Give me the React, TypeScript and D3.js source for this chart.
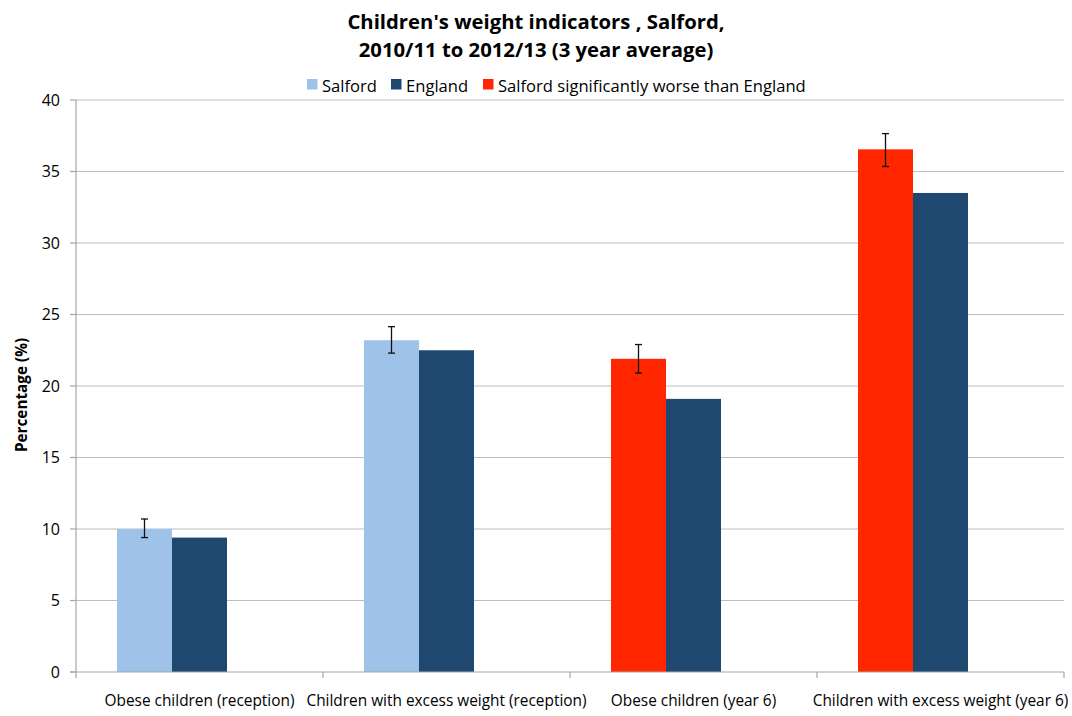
import React from "react";
import * as d3 from "d3";

const categories = [
  "Obese children (reception)",
  "Children with excess weight (reception)",
  "Obese children (year 6)",
  "Children with excess weight (year 6)",
];
const salfordValues = [10.0, 23.2, 21.9, 36.55];
const salfordLower = [9.4, 22.3, 20.9, 35.35];
const salfordUpper = [10.7, 24.15, 22.9, 37.65];
const englandValues = [9.4, 22.5, 19.1, 33.5];
const significantlyWorse = [false, false, true, true];
const yTicks = [0, 5, 10, 15, 20, 25, 30, 35, 40];
const legendItems = ["Salford", "England", "Salford significantly worse than England"];

const COL_SALFORD = "#9FC2E8";
const COL_ENGLAND = "#1F4870";
const COL_WORSE = "#FF2600";
const FONT = "'Open Sans', 'Liberation Sans', sans-serif";

export default function App() {
  const W = 1072, H = 716;
  const left = 76, right = 1064, top = 100, bottom = 672;
  const x = d3.scaleBand<string>().domain(categories).range([left, right]);
  const slotW = 55;
  const groupOff = (x.bandwidth() - 3 * slotW) / 2;
  const y = d3.scaleLinear().domain([0, 40]).range([bottom, top]);

  const legendPos = [307, 391, 483];
  const legendText = [322, 406, 498];

  return (
    <svg width={W} height={H} style={{ position: "absolute", left: 0, top: 0, fontFamily: FONT }}>
      <rect width={W} height={H} fill="#fff" />
      <text x={536} y={29} textAnchor="middle" fontSize={20.3} fontWeight="bold" fill="#000">
        Children's weight indicators , Salford,
      </text>
      <text x={536} y={57} textAnchor="middle" fontSize={20.3} fontWeight="bold" fill="#000">
        2010/11 to 2012/13 (3 year average)
      </text>
      {legendItems.map((t, i) => (
        <g key={t}>
          <rect x={legendPos[i]} y={79} width={10.5} height={10.5} fill={[COL_SALFORD, COL_ENGLAND, COL_WORSE][i]} />
          <text x={legendText[i]} y={91.5} fontSize={16.6} fill="#000">{t}</text>
        </g>
      ))}
      {yTicks.map((t) => (
        <g key={t}>
          {t > 0 && <line x1={left} x2={right} y1={y(t)} y2={y(t)} stroke="#BDBDBD" strokeWidth={1.2} />}
          <line x1={left - 6} x2={left} y1={y(t)} y2={y(t)} stroke="#A6A6A6" strokeWidth={1.2} />
          <text x={60} y={y(t) + 5.5} textAnchor="end" fontSize={16} fill="#000">{t}</text>
        </g>
      ))}
      {categories.map((c, i) => {
        const x0 = (x(c) as number) + groupOff;
        return (
          <g key={c}>
            <rect x={x0} y={y(salfordValues[i])} width={slotW} height={y(0) - y(salfordValues[i])}
              fill={significantlyWorse[i] ? COL_WORSE : COL_SALFORD} />
            <rect x={x0 + slotW} y={y(englandValues[i])} width={slotW} height={y(0) - y(englandValues[i])}
              fill={COL_ENGLAND} />
            <line x1={x0 + slotW / 2} x2={x0 + slotW / 2} y1={y(salfordUpper[i])} y2={y(salfordLower[i])} stroke="#111" strokeWidth={1.3} />
            <line x1={x0 + slotW / 2 - 3.5} x2={x0 + slotW / 2 + 3.5} y1={y(salfordUpper[i])} y2={y(salfordUpper[i])} stroke="#111" strokeWidth={1.3} />
            <line x1={x0 + slotW / 2 - 3.5} x2={x0 + slotW / 2 + 3.5} y1={y(salfordLower[i])} y2={y(salfordLower[i])} stroke="#111" strokeWidth={1.3} />
            <text x={(x(c) as number) + x.bandwidth() / 2} y={706} textAnchor="middle" fontSize={15.4} fill="#000">{c}</text>
          </g>
        );
      })}
      <line x1={left} x2={left} y1={top} y2={bottom} stroke="#A6A6A6" strokeWidth={1.2} />
      <line x1={left - 6} x2={right} y1={bottom} y2={bottom} stroke="#A6A6A6" strokeWidth={1.2} />
      {[...categories.map((c) => x(c) as number), right].map((tx, i) => (
        <line key={i} x1={tx} x2={tx} y1={bottom} y2={bottom + 6} stroke="#A6A6A6" strokeWidth={1.2} />
      ))}
      <text transform={`translate(27,395) rotate(-90)`} textAnchor="middle" fontSize={15.3} fontWeight="bold" fill="#000">
        Percentage (%)
      </text>
    </svg>
  );
}
